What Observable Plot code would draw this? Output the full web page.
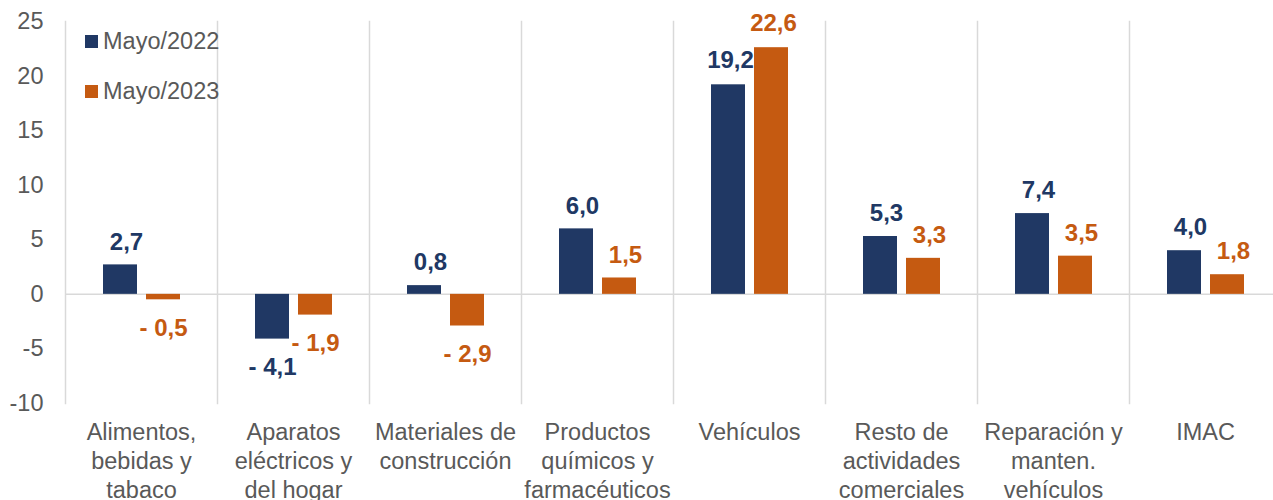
<!DOCTYPE html>
<html><head><meta charset="utf-8">
<script src="https://cdn.jsdelivr.net/npm/d3@7"></script>
<script src="https://cdn.jsdelivr.net/npm/@observablehq/plot@0.6"></script>
<style>
body{margin:0;overflow:hidden;background:#fff;font-family:"Liberation Sans",Arial,sans-serif;}
#wrap{position:relative;width:1273px;height:500px;}
.leg{position:absolute;left:85px;height:26px;font-size:23.5px;color:#595959;display:flex;align-items:center;white-space:nowrap;}
.leg .sw{display:inline-block;width:13px;height:13px;margin-right:5px;}
</style></head><body><div id="wrap"></div>
<script>
const categories = ["Alimentos","Aparatos","Materiales","Productos","Vehiculos","Resto","Reparacion","IMAC"];
const tickLabels = [
  "Alimentos,\nbebidas y\ntabaco",
  "Aparatos\neléctricos y\ndel hogar",
  "Materiales de\nconstrucción",
  "Productos\nquímicos y\nfarmacéuticos",
  "Vehículos",
  "Resto de\nactividades\ncomerciales",
  "Reparación y\nmanten.\nvehículos",
  "IMAC"
];
const series = ["Mayo/2022", "Mayo/2023"];
const values2022 = [2.7, -4.1, 0.8, 6.0, 19.2, 5.3, 7.4, 4.0];
const values2023 = [-0.5, -1.9, -2.9, 1.5, 22.6, 3.3, 3.5, 1.8];
const colors = ["#203864", "#C55A11"];
const yTicks = [-10, -5, 0, 5, 10, 15, 20, 25];

const rows = [];
categories.forEach((c, i) => {
  rows.push({cat: c, series: series[0], value: values2022[i]});
  rows.push({cat: c, series: series[1], value: values2023[i]});
});
const fmt = v => (v < 0 ? "- " : "") + Math.abs(v).toFixed(1).replace(".", ",");
const font = '"Liberation Sans", Arial, sans-serif';
const labelOpts = {fx: "cat", x: "series", y: "value", text: d => fmt(d.value), fill: "series", fontWeight: "bold", fontSize: 24};

const chart = Plot.plot({
  width: 1273, height: 500,
  marginLeft: 65, marginRight: -8, marginTop: 21, marginBottom: 97,
  style: {fontFamily: font, fontSize: "23.5px", color: "#595959", background: "#fff"},
  fx: {domain: categories, padding: 0, label: null, axis: null},
  x: {domain: series, paddingInner: 0.21, paddingOuter: 0.87, axis: null},
  y: {domain: [-10, 25], axis: null},
  color: {domain: series, range: colors},
  marks: [
    Plot.frame({anchor: "left", stroke: "#D9D9D9", strokeWidth: 1.5, strokeOpacity: 1}),
    Plot.ruleY([0], {stroke: "#D9D9D9", strokeWidth: 1.5}),
    Plot.barY(rows, {fx: "cat", x: "series", y: "value", fill: "series"}),
    Plot.text(rows.filter(d => d.value >= 0 && d.value < 10), {...labelOpts, dy: -23, dx: 6}),
    Plot.text(rows.filter(d => d.value >= 10), {...labelOpts, dy: -24, dx: 2}),
    Plot.text(rows.filter(d => d.value < 0), {...labelOpts, dy: 28}),
    Plot.axisY({ticks: yTicks, tickSize: 0, tickPadding: 22, tickFormat: d => String(d), fontSize: 23.5, fill: "#595959", label: null}),
    Plot.axisFx({anchor: "bottom", tickSize: 0, tickPadding: 16, tickFormat: d => tickLabels[categories.indexOf(d)], lineHeight: 1.234, fontSize: 23.5, fill: "#595959", label: null})
  ]
});
const wrap = document.getElementById("wrap");
wrap.appendChild(chart);
const legTops = [28, 78];
series.forEach((s, i) => {
  const d = document.createElement("div");
  d.className = "leg";
  d.style.top = legTops[i] + "px";
  const sw = document.createElement("span");
  sw.className = "sw";
  sw.style.background = colors[i];
  d.appendChild(sw);
  d.appendChild(document.createTextNode(s));
  wrap.appendChild(d);
});
</script>
</body></html>
